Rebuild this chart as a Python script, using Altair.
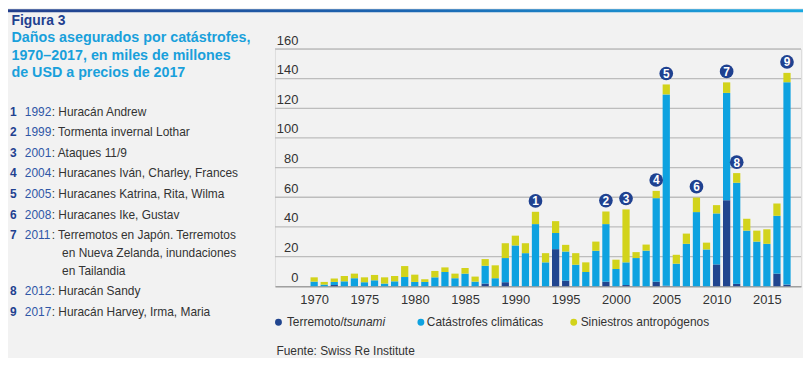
import altair as alt
import pandas as pd

# ---------------- data ----------------
years = list(range(1970, 2018))
quake = [0, 0, 0.8, 0, 0, 0, 0, 0, 0, 0,
         0, 0, 0, 0, 0, 0, 0, 1.8, 0, 2.7,
         0, 0, 0, 0, 25.0, 3.8, 0, 0, 0, 3.1,
         0, 0.8, 0, 0, 3.1, 0.3, 0, 0, 0, 0,
         14.7, 58.0, 1.6, 0, 0, 0, 8.5, 1.1]
weather = [3.1, 1.1, 2.1, 3.3, 5.4, 2.7, 4.0, 1.8, 3.3, 6.2,
           2.9, 2.9, 6.0, 9.6, 5.4, 8.5, 3.1, 12.0, 5.4, 16.3,
           27.5, 22.3, 41.9, 16.1, 10.9, 19.6, 14.5, 9.6, 23.9, 38.8,
           11.6, 15.3, 19.0, 24.0, 56.3, 129.1, 15.2, 28.6, 50.0, 24.8,
           34.4, 72.4, 68.2, 37.5, 30.1, 28.6, 39.0, 136.5]
manmade = [2.9, 1.8, 2.3, 3.6, 3.1, 3.3, 3.6, 4.2, 3.6, 7.4,
           4.9, 1.8, 4.3, 3.1, 3.1, 3.8, 3.4, 4.5, 8.7, 10.0,
           6.6, 6.7, 8.3, 6.2, 8.0, 4.5, 7.8, 6.5, 6.2, 8.5,
           6.3, 35.7, 4.0, 4.1, 4.9, 6.7, 6.0, 6.9, 9.8, 4.6,
           5.6, 7.1, 6.5, 8.0, 7.4, 9.8, 8.3, 6.3]

categories = ["Terremoto/tsunami", "Catástrofes climáticas", "Siniestros antropógenos"]

event_nums = [1, 2, 3, 4, 5, 6, 7, 8, 9]
event_years = [1992, 1999, 2001, 2004, 2005, 2008, 2011, 2012, 2017]
event_desc = [
    ["Huracán Andrew"],
    ["Tormenta invernal Lothar"],
    ["Ataques 11/9"],
    ["Huracanes Iván, Charley, Frances"],
    ["Huracanes Katrina, Rita, Wilma"],
    ["Huracanes Ike, Gustav"],
    ["Terremotos en Japón. Terremotos", "en Nueva Zelanda, inundaciones", "en Tailandia"],
    ["Huracán Sandy"],
    ["Huracán Harvey, Irma, Maria"],
]

fig_label = "Figura 3"
title_lines = ["Daños asegurados por catástrofes,",
               "1970–2017, en miles de millones",
               "de USD a precios de 2017"]
source_text = "Fuente: Swiss Re Institute"
x_ticks = [1970, 1975, 1980, 1985, 1990, 1995, 2000, 2005, 2010, 2015]
y_ticks = [0, 20, 40, 60, 80, 100, 120, 140, 160]

# ---------------- styles / layout ----------------
FONT = "Liberation Sans"
NAVY = "#1f4190"
C_QUAKE = "#21458f"
C_WEATHER = "#0ea2e0"
C_MAN = "#d2d31b"
TITLE_BLUE = "#19a0db"
YEAR_BLUE = "#2f56a6"
TXT = "#333333"
BG = "#f2f2f2"

PX0, PY0 = 277, 48  # page position of the plot origin
def px(v):
    return v - PX0
def py(v):
    return v - PY0

# ---------------- tables ----------------
rows = []
for i, yr in enumerate(years):
    for k, (cat, vals) in enumerate(zip(categories, [quake, weather, manmade])):
        rows.append({"year": yr, "cat": cat, "value": vals[i], "k": k})
bars_df = pd.DataFrame(rows)

totals = {yr: quake[i] + weather[i] + manmade[i] for i, yr in enumerate(years)}
ev_df = pd.DataFrame({"year": event_years,
                      "num": [str(n) for n in event_nums],
                      "total": [totals[y] for y in event_years]})
grid_df = pd.DataFrame({"v": y_ticks[1:]})

xscale = alt.Scale(domain=[1966.6, 2017.9], nice=False, zero=False)
yscale = alt.Scale(domain=[0, 160], nice=False)

x_axis = alt.Axis(values=x_ticks, format="d", ticks=False, tickSize=0,
                  domain=True, domainColor="#a0a0a0", domainWidth=1.5,
                  grid=False, labelFontSize=13, labelColor=TXT,
                  labelFont=FONT, labelPadding=7, labelFlush=False,
                  labelOverlap=False, title=None)
y_axis = alt.Axis(values=y_ticks, grid=False, domain=False, ticks=False, tickSize=0,
                  labelAlign="right", labelBaseline="alphabetic",
                  labelPadding=-23, labelOffset=-5, labelFontSize=13,
                  labelColor=TXT, labelFont=FONT, labelFlush=False,
                  labelOverlap=False, title=None)

grid = alt.Chart(grid_df).mark_rule(color="#bdbdbd", strokeWidth=1.3).encode(
    y=alt.Y("v:Q", scale=yscale, axis=y_axis))

bars = alt.Chart(bars_df).mark_bar(size=7.3).encode(
    x=alt.X("year:Q", scale=xscale, axis=x_axis),
    y=alt.Y("value:Q", stack="zero", scale=yscale, axis=y_axis),
    color=alt.Color("cat:N", scale=alt.Scale(domain=categories,
                                             range=[C_QUAKE, C_WEATHER, C_MAN]),
                    legend=None),
    order=alt.Order("k:Q", sort="ascending"),
)

circles = alt.Chart(ev_df).mark_circle(size=190, color=NAVY, opacity=1, yOffset=-11).encode(
    x=alt.X("year:Q", scale=xscale, axis=x_axis),
    y=alt.Y("total:Q", scale=yscale, axis=y_axis))
nums = alt.Chart(ev_df).mark_text(color="white", fontWeight="bold", fontSize=12,
                                   font=FONT, baseline="middle", yOffset=-10.5).encode(
    x=alt.X("year:Q", scale=xscale, axis=x_axis),
    y=alt.Y("total:Q", scale=yscale, axis=y_axis), text="num:N")

# ---------- left panel text ----------
def text_layer(df, **kw):
    return alt.Chart(df).mark_text(align="left", baseline="alphabetic", font=FONT, **kw).encode(
        x=alt.X("px:Q", scale=None, axis=None),
        y=alt.Y("py:Q", scale=None, axis=None),
        text="t:N")

fig_df = pd.DataFrame({"t": [fig_label], "px": [px(11.5)], "py": [py(23.5)]})
title_df = pd.DataFrame({"t": title_lines,
                         "px": [px(11.5)] * len(title_lines),
                         "py": [py(41 + 17.7 * i) for i in range(len(title_lines))]})

num_rows, year_rows, desc_rows = [], [], []
extra = 0
for i, (n, yr, lines) in enumerate(zip(event_nums, event_years, event_desc)):
    base_y = 115.3 + 20.7 * i + 18 * extra
    num_rows.append({"t": str(n), "px": px(10), "py": py(base_y)})
    year_rows.append({"t": str(yr), "px": px(25), "py": py(base_y)})
    for j, line in enumerate(lines):
        if j == 0:
            desc_rows.append({"t": ": " + line, "px": px(52), "py": py(base_y)})
        else:
            desc_rows.append({"t": line, "px": px(62.5), "py": py(base_y + 18 * j)})
    extra += len(lines) - 1

fig_t = text_layer(fig_df, fontSize=14, fontWeight="bold", color=NAVY)
title_t = text_layer(title_df, fontSize=14.4, fontWeight="bold", color=TITLE_BLUE)
num_t = text_layer(pd.DataFrame(num_rows), fontSize=12, fontWeight="bold", color=NAVY)
year_t = text_layer(pd.DataFrame(year_rows), fontSize=12, color=YEAR_BLUE)
desc_t = text_layer(pd.DataFrame(desc_rows), fontSize=12, color=TXT)

# ---------- legend (manual, for italic part) ----------
leg_dot_df = pd.DataFrame({"cat": categories,
                           "px": [px(280.5), px(424), px(578)],
                           "py": [py(323.3)] * 3})
leg_dots = alt.Chart(leg_dot_df).mark_circle(size=48, opacity=1).encode(
    x=alt.X("px:Q", scale=None, axis=None),
    y=alt.Y("py:Q", scale=None, axis=None),
    color=alt.Color("cat:N", scale=alt.Scale(domain=categories,
                                             range=[C_QUAKE, C_WEATHER, C_MAN]),
                    legend=None))
leg_txt_df = pd.DataFrame({"t": ["Terremoto/", categories[1], categories[2]],
                           "px": [px(289), px(430), px(585)],
                           "py": [py(327.5)] * 3})
leg_it_df = pd.DataFrame({"t": ["tsunami"], "px": [px(346)], "py": [py(327.5)]})
leg_t = text_layer(leg_txt_df, fontSize=12, color=TXT)
leg_it = text_layer(leg_it_df, fontSize=12, color=TXT, fontStyle="italic")
src_t = text_layer(pd.DataFrame({"t": [source_text], "px": [px(278.5)], "py": [py(356)]}),
                   fontSize=12, color=TXT)

# ---------- top gradient band ----------
band = alt.Chart(pd.DataFrame({"a": [0]})).mark_rect(
    color=alt.LinearGradient(gradient="linear",
                             stops=[alt.GradientStop(color="#233f8c", offset=0),
                                    alt.GradientStop(color="#1c66b2", offset=0.5),
                                    alt.GradientStop(color="#1aa9e1", offset=1)],
                             x1=0, x2=1, y1=0, y2=0)).encode(
    x=alt.value(-269), x2=alt.value(534), y=alt.value(-40), y2=alt.value(-37))

chart = alt.layer(
    grid, bars, circles, nums, fig_t, title_t, num_t, year_t, desc_t,
    leg_dots, leg_t, leg_it, src_t, band
).properties(
    width=530, height=239,
    autosize=alt.AutoSizeParams(type="none"),
    padding={"left": 269, "top": 40, "right": 2, "bottom": 71},
    background=BG,
).configure_view(strokeWidth=0).configure(font=FONT)

chart.save("out.html", embed_options={"renderer": "svg", "actions": False})
